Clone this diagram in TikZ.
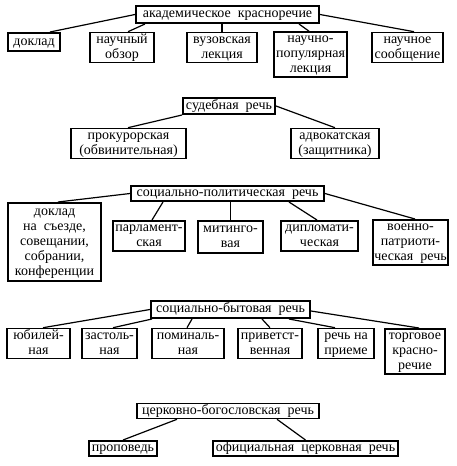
\documentclass[tikz,border=0pt]{standalone}
\usepackage{fontspec}
\setmainfont{Liberation Serif}
\usetikzlibrary{calc}
\tikzset{
  box/.style={draw, line width=1.6pt, inner sep=0pt,
    font=\fontsize{14}{15}\selectfont},
  link/.style={line width=1.2pt}
}
\newcommand\bx[6]{%
  \node[box, minimum width={(#4-#2)*1pt-1.6pt}, minimum height={(#5-#3)*1pt-1.6pt}]
    (#1) at ({(#2+#4)/2},{(#3+#5)/2})
    {\raisebox{-1.5pt}{\begin{tabular}{@{}c@{}}#6\end{tabular}}};}
\begin{document}
\begin{tikzpicture}[x=1pt,y=-1pt]
\useasboundingbox (0,0) rectangle (457,466);
% section 1
\bx{R1}{135}{5}{320}{24}{академическое\ \ красноречие}
\bx{a1}{7}{32}{61}{52}{доклад}
\bx{a2}{89}{32}{155}{63}{научный\\обзор}
\bx{a3}{186}{32}{258}{63}{вузовская\\лекция}
\bx{a4}{273}{32}{348}{77}{научно-\\популярная\\лекция}
\bx{a5}{371}{32}{444}{63}{научное\\сообщение}
\draw[link] (R1.west) -- ($(a1.north west)+(43,0)$);
\draw[link] ($(R1.south west)+(10,0)$) -- ($(a2.north west)+(39,0)$);
\draw[link] (a3.north |- R1.south) -- (a3.north);
\draw[link] ($(R1.south west)+(164,0)$) -- ($(a4.north west)+(36,0)$);
\draw[link] (R1.east) -- ($(a5.north west)+(43,0)$);
% section 2
\bx{R2}{182}{97}{276}{115}{судебная\ \ речь}
\bx{b1}{70}{128}{187}{159}{прокурорская\\(обвинительная)}
\bx{b2}{290}{128}{380}{159}{адвокатская\\(защитника)}
\draw[link] (R2.south west) -- ($(b1.north west)+(58,0)$);
\draw[link] (R2.east) -- ($(b2.north west)+(45,0)$);
% section 3
\bx{R3}{130}{185}{325}{202}{социально-политическая\ \ речь}
\bx{c1}{7}{202}{102}{282}{доклад\\на\ \ съезде,\\совещании,\\собрании,\\конференции}
\bx{c2}{112}{220}{186}{252}{парламент-\\ская}
\bx{c3}{197}{220}{264}{254}{митинго-\\вая}
\bx{c4}{280}{220}{359}{252}{дипломати-\\ческая}
\bx{c5}{372}{219}{449}{266}{военно-\\патриоти-\\ческая\ \ речь}
\draw[link] (R3.west) -- ($(c1.north west)+(51,0)$);
\draw[link] ($(R3.south west)+(33,0)$) -- ($(c2.north west)+(40,0)$);
\draw[link] (c3.north |- R3.south) -- (c3.north);
\draw[link] ($(R3.south west)+(159,0)$) -- ($(c4.north west)+(37,0)$);
\draw[link] (R3.east) -- ($(c5.north west)+(43,0)$);
% section 4
\bx{R4}{150}{300}{311}{319}{социально-бытовая\ \ речь}
\bx{d1}{6}{328}{71}{359}{юбилей-\\ная}
\bx{d2}{81}{328}{138}{359}{застоль-\\ная}
\bx{d3}{151}{328}{225}{359}{поминаль-\\ная}
\bx{d4}{237}{328}{303}{359}{приветст-\\венная}
\bx{d5}{317}{328}{375}{359}{речь на\\приеме}
\bx{d6}{384}{328}{446}{375}{торговое\\красно-\\речие}
\draw[link] (R4.west) -- ($(d1.north west)+(37,0)$);
\draw[link] ($(R4.south west)+(2,0)$) -- ($(d2.north west)+(32,0)$);
\draw[link] ($(R4.south west)+(42,0)$) -- ($(d3.north west)+(36,0)$);
\draw[link] ($(R4.south west)+(112,0)$) -- ($(d4.north west)+(33,0)$);
\draw[link] ($(R4.south west)+(139,0)$) -- ($(d5.north west)+(18,0)$);
\draw[link] ($(R4.east)+(0,1.5)$) -- ($(d6.north west)+(35,0)$);
% section 5
\bx{R5}{136}{403}{320}{419}{церковно-богословская\ \ речь}
\bx{e1}{88}{440}{158}{457}{проповедь}
\bx{e2}{212}{440}{399}{457}{официальная\ \ церковная\ \ речь}
\draw[link] ($(R5.south west)+(41,0)$) -- (e1.north);
\draw[link] ($(R5.south west)+(141,0)$) -- (e2.north);
\end{tikzpicture}
\end{document}
